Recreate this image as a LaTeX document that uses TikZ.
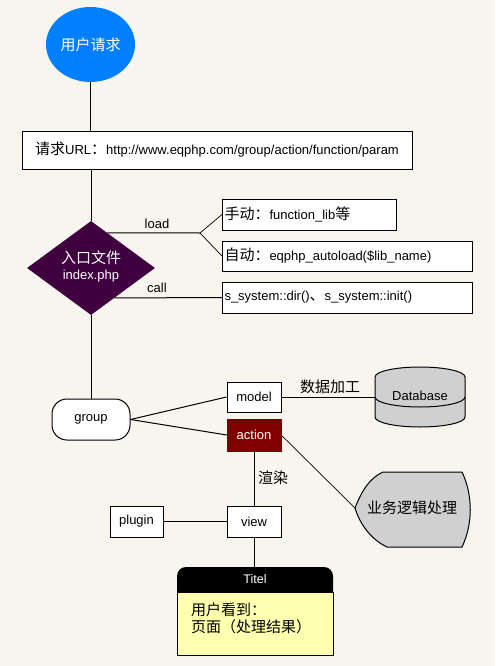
\documentclass[tikz,border=0pt]{standalone}
\usepackage{fontspec}
\setmainfont{Liberation Sans}
\newfontfamily\cjk{Noto Sans CJK SC}
\usetikzlibrary{shapes.geometric}
\definecolor{bgc}{RGB}{248,245,238}
\definecolor{userblue}{RGB}{0,128,255}
\definecolor{purp}{RGB}{64,0,64}
\definecolor{darkred}{RGB}{128,0,0}
\definecolor{shapegray}{RGB}{208,208,208}
\definecolor{noteyellow}{RGB}{255,255,176}
\newcommand\latinsz{\fontsize{13}{15.5}\selectfont}
\newcommand\cjksz{\fontsize{15}{17}\selectfont\cjk}
\begin{document}
\begin{tikzpicture}[x=1pt,y=-1pt,
  every node/.style={font=\latinsz, inner sep=0pt},
  box/.style={draw, fill=white, line width=1pt},
  lbox/.style={box, anchor=west, inner xsep=2pt, align=left},
  conn/.style={line width=1pt},
  thinconn/.style={line width=0.7pt}]
\fill[bgc] (0,0) rectangle (495,666);
\useasboundingbox (0,0) rectangle (495,666);

% nodes
\node[ellipse, fill=userblue, minimum width=89, minimum height=75, text=white, font=\cjksz] (req) at (90.5,44.5) {用户请求};
\node[box, minimum width=390, minimum height=38] (url) at (217,150) {{\cjksz 请求}URL{\cjksz ：}http://www.eqphp.com/group/action/function/param};
\node[diamond, fill=purp, minimum width=128, minimum height=94] (dia) at (91,268) {};
\node[text=white, align=center] (diatxt) at (91,266.5) {{\cjksz 入口文件}\\[1pt]index.php};

\node[lbox, minimum height=31, text width=170] (b1) at (222,214.5) {{\cjksz 手动：}function\_lib{\cjksz 等}};
\node[lbox, minimum height=30, text width=246] (b2) at (222,256) {{\cjksz 自动：}eqphp\_autoload(\$lib\_name)};
\node[lbox, minimum height=31, text width=246] (b3) at (222,297.5) {s\_system::dir(){\cjksz 、}s\_system::init()};
\coordinate (lj) at (200,233);
\node (loadlbl) at (157,224) {load};
\node (calllbl) at (157,288) {call};

\node[box, rounded corners=15, minimum width=78, minimum height=41] (grp) at (91,419.5) {group};
\node[box, minimum width=54, minimum height=30] (model) at (254,397) {model};
\node[draw=darkred, fill=darkred, text=white, minimum width=54, minimum height=32] (action) at (254,435) {action};

% database cylinder
\filldraw[fill=shapegray, line width=1pt] (375,377) -- (375,417) arc[start angle=180, end angle=0, x radius=45, y radius=10] -- (465,377) arc[start angle=0, end angle=-180, x radius=45, y radius=10] -- cycle;
\draw[line width=1pt] (375,397) arc[start angle=180, end angle=0, x radius=45, y radius=10];
\node[minimum width=90, minimum height=60] (db) at (420,397) {};
\node (dbtxt) at (420,396) {Database};
\node[font=\cjksz] (proc) at (330,387) {数据加工};

% business logic shape
\filldraw[fill=shapegray, line width=1pt] (355,508) .. controls (362,490) and (370,478) .. (383,472) -- (462,472) .. controls (473,495) and (473,524) .. (462,547) -- (387,547) .. controls (372,540) and (360,525) .. (355,508) -- cycle;
\coordinate (bizl) at (355,508);
\node[font=\cjksz] (biz) at (412,508) {业务逻辑处理};

\node[box, minimum width=54, minimum height=31] (view) at (254,521.5) {view};
\node[box, minimum width=53, minimum height=31] (plugin) at (136.5,521.5) {plugin};
\node[font=\cjksz] (render) at (273,478) {渲染};

% title note
\node[minimum width=156, minimum height=88] (note) at (255,611) {};
\fill[black, rounded corners=9] (177,567) rectangle (333,600);
\filldraw[fill=noteyellow, line width=1pt] (177,592) rectangle (333,655);
\node[text=white, font=\fontsize{12.5}{14}\selectfont] (titel) at (255,579.5) {Titel};
\node[anchor=north west, align=left, font=\fontsize{15}{17}\selectfont\cjk] (notebody) at (191,603) {用户看到：\\页面（处理结果）};

% connectors
\draw[conn] (req.south) -- (url.north -| req.south);
\draw[conn] (url.south -| dia.north) -- (dia.north);
\draw[conn] (dia.65) -- (lj);
\draw[thinconn] (lj) -- (b1.west);
\draw[thinconn] (lj) -- (b2.west);
\draw[conn] (dia.-52.4) -- (b3.west);
\draw[conn] (dia.south) -- (grp.north);
\draw[conn] (grp.east) -- (model.west);
\draw[conn] (grp.east) -- (action.west);
\draw[conn] (model.east) -- (db.west);
\draw[thinconn] (action.east) -- (bizl);
\draw[conn] (action.south) -- (view.north);
\draw[conn] (plugin.east) -- (view.west);
\draw[conn] (view.south) -- (view.south |- note.north);
\end{tikzpicture}
\end{document}
